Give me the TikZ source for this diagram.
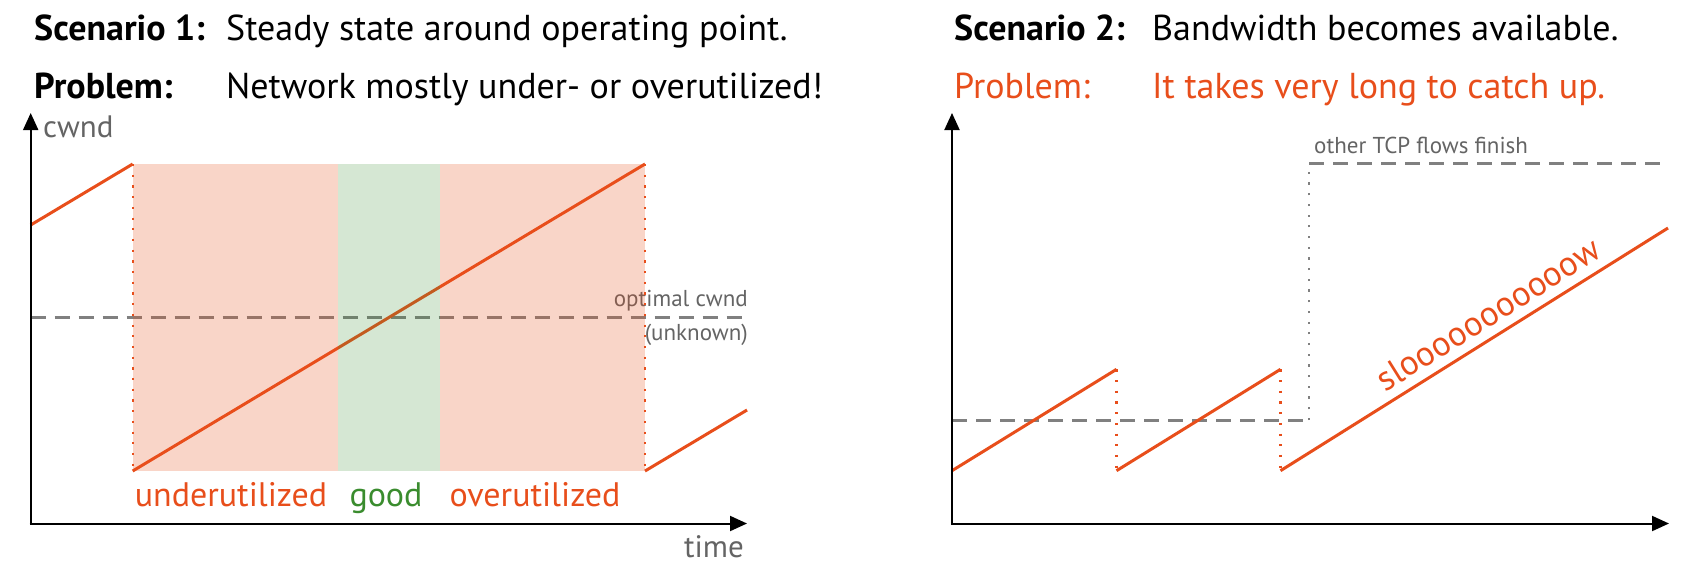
\documentclass[tikz,border=0pt]{standalone}
\usepackage{fontspec}
\setmainfont{PT Sans}
\usetikzlibrary{arrows.meta}
\definecolor{tcpred}{RGB}{232,78,27}
\definecolor{tcpgreen}{RGB}{58,140,46}
\definecolor{tcpgrey}{RGB}{128,128,128}
\definecolor{tcptext}{RGB}{100,100,100}
\begin{document}
\begin{tikzpicture}[x=1pt,y=-1pt,
  titletext/.style={anchor=base west,inner sep=0pt,font=\fontsize{36}{42}\selectfont},
  titlebold/.style={titletext,font=\fontsize{36}{42}\selectfont\bfseries},
  axislabel/.style={inner sep=0pt,text=tcptext,font=\fontsize{31}{36}\selectfont},
  smalllabel/.style={inner sep=0pt,text=tcptext,font=\fontsize{23}{28}\selectfont},
  zonelabel/.style={anchor=base,inner sep=0pt,font=\fontsize{34}{40}\selectfont},
  axisline/.style={line width=2pt,-{Triangle[length=17pt,width=15pt]}},
  sawline/.style={tcpred,line width=3pt},
  reddots/.style={tcpred,line width=2.2pt,dash pattern=on 2.2pt off 8.5pt},
  greydots/.style={tcpgrey,line width=2.2pt,dash pattern=on 2.2pt off 8.5pt},
  greydash/.style={tcpgrey,line width=3pt,dash pattern=on 15pt off 9pt},
]
\useasboundingbox (0,0) rectangle (1692,566);

% ---------- titles ----------
\node[titlebold] (s1) at (34,40) {Scenario 1:};
\node[titletext] (s1t) at (226,40) {Steady state around operating point.};
\node[titlebold] (p1) at (34,98) {Problem:};
\node[titletext] (p1t) at (226,98) {Network mostly under- or overutilized!};
\node[titlebold] (s2) at (954,40) {Scenario 2:};
\node[titletext] (s2t) at (1152,40) {Bandwidth becomes available.};
\node[titletext,text=tcpred] (p2) at (954,98) {Problem:};
\node[titletext,text=tcpred] (p2t) at (1152,98) {It takes very long to catch up.};

% ---------- left chart ----------
\coordinate (lo) at (30.7,523.5);
\coordinate (ltop) at (30.7,113);
\coordinate (lright) at (747,523.5);
\coordinate (la) at (30.7,225);
\coordinate (lb) at (132.7,164);
\coordinate (lc) at (132.7,471);
\coordinate (ld) at (645,164);
\coordinate (le) at (645,471);
\coordinate (lf) at (747,410);
\coordinate (lg1) at (337.8,164);
\coordinate (lg2) at (440,471);
\coordinate (ldash1) at (30.7,317.3);
\coordinate (ldash2) at (748,317.3);

\draw[greydash] (ldash1) -- (ldash2);
\draw[sawline] (la) -- (lb);
\draw[sawline] (lc) -- (ld);
\draw[sawline] (le) -- (lf);
\node[smalllabel,anchor=base east] (opt) at (748,306.5) {optimal cwnd};
\node[smalllabel,anchor=base east] (unk) at (748,340) {(unknown)};

\fill[tcpred,opacity=0.24] (lb) rectangle (lg1 |- lc);
\fill[tcpgreen,opacity=0.21] (lg1) rectangle (lg2);
\fill[tcpred,opacity=0.24] (lg2 |- ld) rectangle (le);

\draw[reddots] (lb) -- (lc);
\draw[reddots] (ld) -- (le);

\draw[axisline] ([yshift=1pt]lo) -- (ltop);
\draw[axisline] ([xshift=-1pt]lo) -- (lright);
\node[axislabel,anchor=base west] (cwnd) at (43,137) {cwnd};
\node[axislabel,anchor=base east] (time) at (744,557) {time};

\node[zonelabel,text=tcpred] (under) at (231,506) {underutilized};
\node[zonelabel,text=tcpgreen] (good) at (386,506) {good};
\node[zonelabel,text=tcpred] (over) at (535,506) {overutilized};

% ---------- right chart ----------
\coordinate (ro) at (952,523.5);
\coordinate (rtop) at (952,113);
\coordinate (rright) at (1669,523.5);
\coordinate (rlow1) at (952,420);
\coordinate (rlow2) at (1309,420);
\coordinate (rhigh1) at (1309,163.5);
\coordinate (rhigh2) at (1662,163.5);
\coordinate (ra) at (952,470.7);
\coordinate (rb) at (1116.5,369.3);
\coordinate (rc) at (1116.5,470.7);
\coordinate (rd) at (1280.5,369.3);
\coordinate (re) at (1280.5,470.7);
\coordinate (rf) at (1668,228);

\draw[greydash] (rlow1) -- (rlow2);
\draw[greydots] (rlow2) -- (rhigh1);
\draw[greydash] (rhigh1) -- (rhigh2);
\node[smalllabel,anchor=base west] (other) at (1314,153) {other TCP flows finish};

\draw[sawline] (ra) -- (rb);
\draw[reddots] (rb) -- (rc);
\draw[sawline] (rc) -- (rd);
\draw[reddots] (rd) -- (re);
\draw[sawline] (re) -- (rf);
\node[inner sep=0pt,text=tcpred,rotate=32,font=\fontsize{35}{40}\selectfont] (slow) at (1488,314) {slooooooooooow};

\draw[axisline] ([yshift=1pt]ro) -- (rtop);
\draw[axisline] ([xshift=-1pt]ro) -- (rright);
\end{tikzpicture}
\end{document}
